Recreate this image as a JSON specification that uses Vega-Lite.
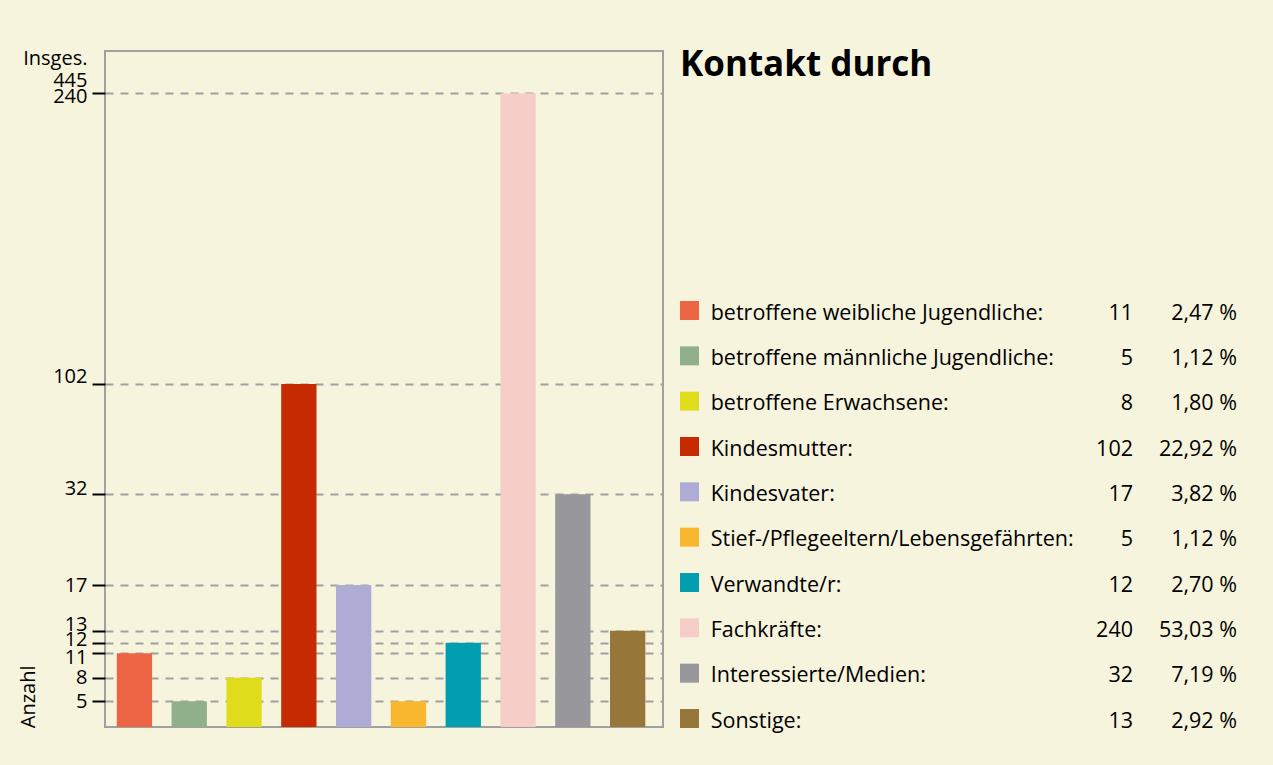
{
  "$schema": "https://vega.github.io/schema/vega-lite/v6.json",
  "background": "#f6f4dd",
  "padding": {"left": 17, "top": 47, "right": 36, "bottom": 33},
  "autosize": {"type": "pad"},
  "bounds": "flush",
  "spacing": 17,
  "config": {
    "font": "Open Sans",
    "view": {"stroke": "#a0a0a0", "strokeWidth": 2}
  },
  "datasets": {
    "rows": [
      {"cat": "betroffene weibliche Jugendliche", "n": 11, "pct": "2,47 %"},
      {"cat": "betroffene männliche Jugendliche", "n": 5, "pct": "1,12 %"},
      {"cat": "betroffene Erwachsene", "n": 8, "pct": "1,80 %"},
      {"cat": "Kindesmutter", "n": 102, "pct": "22,92 %"},
      {"cat": "Kindesvater", "n": 17, "pct": "3,82 %"},
      {"cat": "Stief-/Pflegeeltern/Lebensgefährten", "n": 5, "pct": "1,12 %"},
      {"cat": "Verwandte/r", "n": 12, "pct": "2,70 %"},
      {"cat": "Fachkräfte", "n": 240, "pct": "53,03 %"},
      {"cat": "Interessierte/Medien", "n": 32, "pct": "7,19 %"},
      {"cat": "Sonstige", "n": 13, "pct": "2,92 %"}
    ]
  },
  "hconcat": [
    {
      "width": 558,
      "height": 676,
      "data": {"name": "rows"},
      "mark": {"type": "bar"},
      "encoding": {
        "x": {"field": "cat", "type": "nominal", "sort": null, "axis": null,
              "scale": {"paddingInner": 0.356, "paddingOuter": 0.269, "align": 0.4}},
        "y": {"field": "n", "type": "quantitative",
              "scale": {"domain": [0, 5, 8, 11, 12, 13, 17, 32, 102, 240, 445],
                        "range": [676, 650.3, 626.7, 602.3, 591.7, 579.7, 534, 443.3, 333, 42.3, 7.5],
                        "nice": false, "zero": false},
              "axis": {
                "values": [5, 8, 11, 12, 13, 17, 32, 102, 240, 445],
                "title": "Anzahl",
                "domain": false,
                "grid": true,
                "gridColor": {"condition": {"test": "datum.value === 445", "value": "rgba(0,0,0,0)"}, "value": "#a0a0a0"},
                "gridWidth": 2,
                "gridDash": [8, 7],
                "ticks": true,
                "tickSize": 13,
                "tickWidth": 2,
                "tickColor": {"condition": {"test": "datum.value === 445", "value": "rgba(0,0,0,0)"}, "value": "#000000"},
                "labelFontSize": 20,
                "labelColor": "#000000",
                "labelPadding": 5,
                "labelOverlap": false,
                "labelLineHeight": 22,
                "labelBound": false,
                "labelFlush": false,
                "labelExpr": "datum.value === 445 ? ['Insges.', '445'] : datum.label",
                "labelOffset": {"condition": [
                  {"test": "datum.value === 11", "value": 4},
                  {"test": "datum.value === 12", "value": -3},
                  {"test": "datum.value === 13", "value": -6.5},
                  {"test": "datum.value === 32", "value": -5.5},
                  {"test": "datum.value === 102", "value": -8},
                  {"test": "datum.value === 240", "value": 3.4}
                ], "value": 0},
                "titleFontSize": 20,
                "titleFontWeight": "normal",
                "titleColor": "#000000",
                "titleAngle": 270,
                "titleAlign": "left",
                "titleBaseline": "middle",
                "titleX": -77,
                "titleY": 676.7
              }},
        "color": {"field": "cat", "type": "nominal", "legend": null,
                  "scale": {"domain": ["betroffene weibliche Jugendliche", "betroffene männliche Jugendliche", "betroffene Erwachsene", "Kindesmutter", "Kindesvater", "Stief-/Pflegeeltern/Lebensgefährten", "Verwandte/r", "Fachkräfte", "Interessierte/Medien", "Sonstige"],
                            "range": ["#ec6645", "#8fb08a", "#dfdc1c", "#c52a00", "#aeabd5", "#f8b72c", "#009eb0", "#f6cdc7", "#98979c", "#967639"]}}
      }
    },
    {
      "width": 556,
      "height": 676,
      "view": {"stroke": null},
      "title": {"text": "Kontakt durch", "anchor": "start", "fontSize": 35, "fontWeight": "bold", "color": "#000000", "baseline": "alphabetic", "offset": -26.3, "dy": 33.5, "frame": "group"},
      "data": {"name": "rows"},
      "encoding": {
        "y": {"field": "cat", "type": "nominal", "sort": null, "axis": null,
              "scale": {"type": "point", "padding": 0, "range": [259.5, 667.5]}}
      },
      "layer": [
        {
          "mark": {"type": "square", "size": 361, "opacity": 1, "filled": true, "x": 9.5},
          "encoding": {
            "color": {"field": "cat", "type": "nominal", "legend": null}
          }
        },
        {
          "mark": {"type": "text", "align": "left", "baseline": "alphabetic", "dy": 9, "fontSize": 21.5, "color": "#000000", "x": 30.7, "text": {"expr": "datum.cat + ':'"}},
          "encoding": {}
        },
        {
          "mark": {"type": "text", "align": "right", "baseline": "alphabetic", "dy": 9, "fontSize": 21.5, "color": "#000000", "x": 453},
          "encoding": {"text": {"field": "n", "type": "quantitative"}}
        },
        {
          "mark": {"type": "text", "align": "right", "baseline": "alphabetic", "dy": 9, "fontSize": 21.5, "color": "#000000", "x": 557},
          "encoding": {"text": {"field": "pct", "type": "nominal"}}
        }
      ]
    }
  ]
}
